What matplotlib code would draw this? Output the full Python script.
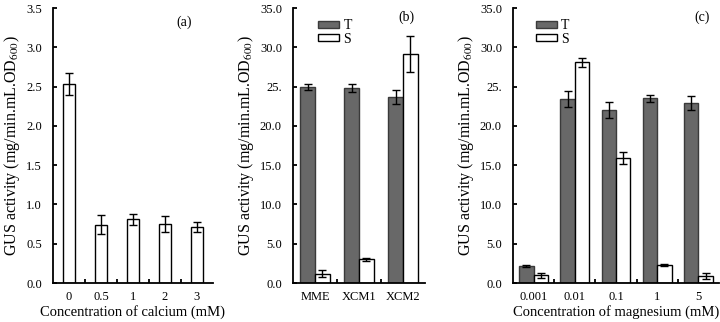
import numpy as np
import matplotlib
matplotlib.use("Agg")
import matplotlib.pyplot as plt
from matplotlib.patches import Patch

plt.rcParams['font.family'] = ['Liberation Serif', 'DejaVu Serif']
plt.rcParams['mathtext.fontset'] = 'stix'

# (a) calcium
calcio_cat = ['0', '0.5', '1', '2', '3']
calcio_val = [2.53, 0.74, 0.81, 0.75, 0.71]
calcio_err = [0.14, 0.12, 0.065, 0.10, 0.065]

# (b) meios
meio_cat = ['MME', 'XCM1', 'XCM2']
meio_T = [24.95, 24.85, 23.7]
meio_T_err = [0.4, 0.5, 0.9]
meio_S = [1.2, 3.0, 29.1]
meio_S_err = [0.45, 0.2, 2.3]

# (c) magnesio
mag_cat = ['0.001', '0.01', '0.1', '1', '5']
mag_T = [2.2, 23.4, 22.05, 23.5, 22.9]
mag_T_err = [0.15, 1.0, 1.0, 0.45, 0.85]
mag_S = [1.0, 28.1, 15.9, 2.3, 0.9]
mag_S_err = [0.3, 0.6, 0.8, 0.1, 0.4]

yticks_ab = [0, 5, 10, 15, 20, 25, 30, 35]
yticklabels_ab = ['0.0', '5.0', '10.0', '15.0', '20.0', '25.', '30.0', '35.0']
ylabel = 'GUS activity (mg/min.mL.OD$_{600}$)'

cor_T = '#686868'
cor_borda_T = '#3a3a3a'
err_kw = dict(ecolor='black', elinewidth=1.0, capsize=3, capthick=1.0)

fig = plt.figure(figsize=(7.2, 3.22), dpi=100)
bottom = 0.121
height = 0.854


def estilo(ax, n):
    ax.spines['top'].set_visible(False)
    ax.spines['right'].set_visible(False)
    ax.spines['left'].set_linewidth(1.3)
    ax.spines['bottom'].set_linewidth(1.3)
    ax.set_xlim(-0.5, n - 0.5)
    ax.set_xticks(np.arange(n))
    ax.set_xticks(np.arange(n - 1) + 0.5, minor=True)
    ax.tick_params(axis='x', which='major', length=0, labelsize=9, pad=6)
    ax.tick_params(axis='x', which='minor', direction='in', length=3, width=1.3)
    ax.tick_params(axis='y', direction='in', length=3, width=1.3, labelsize=9, pad=8)
    ax.set_ylabel(ylabel, fontsize=11.5, labelpad=3)


# painel (a)
ax1 = fig.add_axes([53 / 720, bottom, 160 / 720, height])
x = np.arange(len(calcio_cat))
ax1.bar(x, calcio_val, width=0.4, color='white', edgecolor='black', linewidth=1.0,
        yerr=calcio_err, error_kw=err_kw)
estilo(ax1, len(calcio_cat))
ax1.set_ylim(0, 3.5)
ax1.set_yticks(np.arange(0, 3.51, 0.5))
ax1.set_yticklabels([f'{v:.1f}' for v in np.arange(0, 3.51, 0.5)])
ax1.set_xticklabels(calcio_cat)
ax1.set_xlabel('Concentration of calcium (mM)', fontsize=10.5, labelpad=1)
ax1.text(0.82, 0.95, '(a)', transform=ax1.transAxes, fontsize=10, ha='center', va='center')

# painel (b)
ax2 = fig.add_axes([293 / 720, bottom, 132 / 720, height])
x = np.arange(len(meio_cat))
w = 0.34
ax2.bar(x - w / 2, meio_T, width=w, color=cor_T, edgecolor=cor_borda_T, linewidth=1.0,
        yerr=meio_T_err, error_kw=err_kw, label='T')
ax2.bar(x + w / 2, meio_S, width=w, color='white', edgecolor='black', linewidth=1.0,
        yerr=meio_S_err, error_kw=err_kw, label='S')
estilo(ax2, len(meio_cat))
ax2.set_ylim(0, 35)
ax2.set_yticks(yticks_ab)
ax2.set_yticklabels(yticklabels_ab)
ax2.set_xticklabels(meio_cat)
ax2.text(0.86, 0.965, '(b)', transform=ax2.transAxes, fontsize=10, ha='center', va='center')

# painel (c)
ax3 = fig.add_axes([513 / 720, bottom, 206 / 720, height])
x = np.arange(len(mag_cat))
w = 0.35
ax3.bar(x - w / 2, mag_T, width=w, color=cor_T, edgecolor=cor_borda_T, linewidth=1.0,
        yerr=mag_T_err, error_kw=err_kw, label='T')
ax3.bar(x + w / 2, mag_S, width=w, color='white', edgecolor='black', linewidth=1.0,
        yerr=mag_S_err, error_kw=err_kw, label='S')
estilo(ax3, len(mag_cat))
ax3.set_ylim(0, 35)
ax3.set_yticks(yticks_ab)
ax3.set_yticklabels(yticklabels_ab)
ax3.set_xticklabels(mag_cat)
ax3.set_xlabel('Concentration of magnesium (mM)', fontsize=10.5, labelpad=1)
ax3.text(0.92, 0.965, '(c)', transform=ax3.transAxes, fontsize=10, ha='center', va='center')

# legendas
for ax, bx in [(ax2, 0.13), (ax3, 0.07)]:
    handles = [Patch(facecolor=cor_T, edgecolor=cor_borda_T, linewidth=1.0),
               Patch(facecolor='white', edgecolor='black', linewidth=1.0)]
    ax.legend(handles, ['T', 'S'], loc='upper left', bbox_to_anchor=(bx, 0.99),
              frameon=False, fontsize=10, handlelength=1.5, handleheight=0.4,
              handletextpad=0.3, labelspacing=0.05, borderpad=0.1)

plt.savefig('out.png', dpi=100)
